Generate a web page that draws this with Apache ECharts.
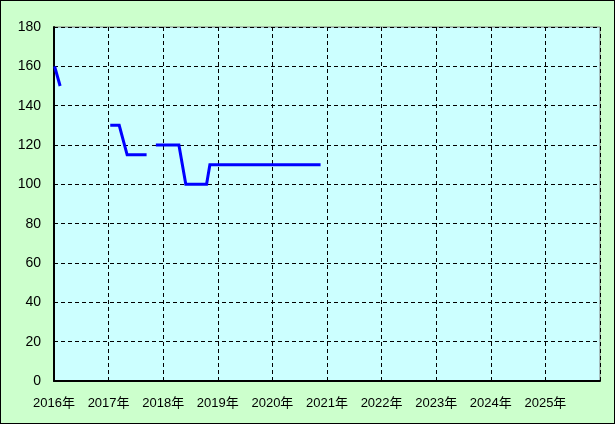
<!DOCTYPE html>
<html>
<head>
<meta charset="utf-8">
<style>
html,body{margin:0;padding:0;background:#CCFFCC;}
#chart{width:615px;height:424px;box-sizing:border-box;border:1px solid #000;}
</style>
<script src="https://cdn.jsdelivr.net/npm/echarts@6/dist/echarts.min.js"></script>
</head>
<body>
<div id="chart"></div>
<script>
// Data (dates and values)
const yearTicks = [2016, 2017, 2018, 2019, 2020, 2021, 2022, 2023, 2024, 2025, 2026];
const segment1Dates = ['2016-01-05', '2016-02-11'];
const segment1Values = [160, 150];
const segment2Dates = ['2017-01-12', '2017-03-13', '2017-05-05', '2017-09-12'];
const segment2Values = [130, 130, 115, 115];
const segment3Dates = ['2017-11-13', '2018-04-16', '2018-06-01', '2018-10-18', '2018-11-09', '2020-11-19'];
const segment3Values = [120, 120, 100, 100, 110, 110];
const yMin = 0, yMax = 180, yStep = 20;

function toYear(s) {
  const [y, m, d] = s.split('-').map(Number);
  const start = Date.UTC(y, 0, 1), end = Date.UTC(y + 1, 0, 1);
  return y + (Date.UTC(y, m - 1, d) - start) / (end - start);
}
function pairs(dates, vals) { return dates.map((d, i) => [toYear(d), vals[i]]); }

const font = '"Liberation Sans", "Noto Sans CJK JP", sans-serif';
const chart = echarts.init(document.getElementById('chart'), null, {renderer: 'canvas'});
const lineStyle = {color: '#0000FF', width: 3, cap: 'butt', join: 'miter'};
const mkSeries = (data) => ({
  type: 'line', data, symbol: 'none', lineStyle, itemStyle: {color: '#0000FF'},
  animation: false, silent: true, z: 5
});

chart.setOption({
  backgroundColor: '#CCFFCC',
  animation: false,
  grid: {left: 53, top: 26, right: 14, bottom: 42, containLabel: false,
         show: true, backgroundColor: '#CCFFFF', borderColor: '#808080', borderWidth: 1},
  xAxis: {
    type: 'value', min: yearTicks[0], max: yearTicks[yearTicks.length - 1], interval: 1,
    axisLine: {show: true, onZero: false, lineStyle: {color: '#000', width: 2}},
    axisTick: {show: false},
    splitLine: {show: true, lineStyle: {color: '#000', type: [4, 3], width: 1}},
    axisLabel: {
      color: '#000', fontFamily: font, fontSize: 13, margin: 16,
      formatter: v => (v < yearTicks[yearTicks.length - 1] ? v + '年' : '')
    }
  },
  yAxis: {
    type: 'value', min: yMin, max: yMax, interval: yStep,
    axisLine: {show: true, lineStyle: {color: '#000', width: 2}},
    axisTick: {show: false},
    splitLine: {show: true, lineStyle: {color: '#000', type: [4, 3], width: 1}},
    axisLabel: {color: '#000', fontFamily: font, fontSize: 14, margin: 13}
  },
  series: [
    mkSeries(pairs(segment1Dates, segment1Values)),
    mkSeries(pairs(segment2Dates, segment2Values)),
    mkSeries(pairs(segment3Dates, segment3Values))
  ]
});
</script>
</body>
</html>
